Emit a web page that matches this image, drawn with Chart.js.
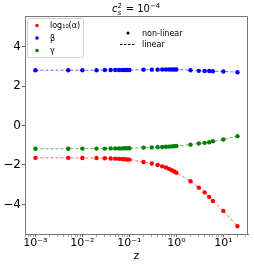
<!DOCTYPE html>
<html>
<head>
<meta charset="utf-8">
<script src="https://cdn.jsdelivr.net/npm/chart.js@4.4.1/dist/chart.umd.min.js"></script>
<style>
  html, body { margin: 0; padding: 0; background: #fff; }
  #wrap { width: 254px; height: 267px; }
</style>
</head>
<body>
<div id="wrap"><canvas id="chart" width="254" height="267"></canvas></div>
<script>
// redshift values (x)
const zValues = [0.001, 0.005, 0.01, 0.02, 0.03, 0.04, 0.05, 0.06, 0.07, 0.08, 0.09, 0.1,
  0.2, 0.3, 0.4, 0.5, 0.6, 0.7, 0.8, 0.9, 1.0, 2, 3, 4, 5, 6, 10, 20];
const logAlpha = [-1.64, -1.64, -1.65, -1.65, -1.66, -1.67, -1.68, -1.69, -1.70, -1.71, -1.72, -1.73,
  -1.85, -1.93, -2.00, -2.07, -2.13, -2.20, -2.27, -2.33, -2.39, -2.83, -3.15, -3.39, -3.62, -3.83, -4.33, -5.10];
const beta = [2.80, 2.80, 2.80, 2.80, 2.81, 2.81, 2.81, 2.81, 2.81, 2.81, 2.81, 2.81,
  2.83, 2.83, 2.83, 2.84, 2.84, 2.84, 2.84, 2.84, 2.84, 2.80, 2.77, 2.76, 2.76, 2.75, 2.74, 2.70];
const gamma = [-1.18, -1.18, -1.17, -1.17, -1.17, -1.16, -1.16, -1.16, -1.16, -1.15, -1.15, -1.15,
  -1.12, -1.11, -1.10, -1.09, -1.08, -1.07, -1.06, -1.05, -1.04, -0.97, -0.91, -0.88, -0.85, -0.80, -0.71, -0.54];
const yTicks = [-4, -2, 0, 2, 4];
const seriesNames = ["log\u2081\u2080(\u03b1)", "\u03b2", "\u03b3"];

const sup = { "-": "\u207b", "0": "\u2070", "1": "\u00b9", "2": "\u00b2", "3": "\u00b3", "4": "\u2074" };
function powLabel(e) {
  return "10" + String(e).split("").map(c => sup[c]).join("");
}

function makeSet(vals, color, line) {
  return {
    data: zValues.map((z, i) => ({ x: z, y: vals[i] })),
    showLine: true,
    borderColor: line,
    borderWidth: 1,
    borderDash: [3, 2],
    backgroundColor: color,
    pointBackgroundColor: color,
    pointBorderWidth: 0,
    pointRadius: 2.2,
  };
}

const overlay = {
  id: "overlay",
  afterDraw(chart) {
    const ctx = chart.ctx;
    const a = chart.chartArea;
    ctx.save();
    // top / right frame
    ctx.strokeStyle = "#777";
    ctx.lineWidth = 1;
    ctx.beginPath();
    ctx.moveTo(a.left, a.top + 0.5);
    ctx.lineTo(a.right - 0.5, a.top + 0.5);
    ctx.lineTo(a.right - 0.5, a.bottom);
    ctx.stroke();

    // title
    ctx.fillStyle = "#000";
    ctx.textBaseline = "alphabetic";
    ctx.font = "italic 10px 'DejaVu Sans'";
    let x = 112;
    ctx.fillText("c", x, 12);
    x += ctx.measureText("c").width;
    ctx.font = "7px 'DejaVu Sans'";
    ctx.fillText("2", x, 7.5);
    ctx.font = "italic 7px 'DejaVu Sans'";
    ctx.fillText("s", x, 14.5);
    x += 5;
    ctx.font = "10px 'DejaVu Sans'";
    ctx.fillText(" = 10", x, 12);
    x += ctx.measureText(" = 10").width;
    ctx.font = "7px 'DejaVu Sans'";
    ctx.fillText("\u22124", x, 7.5);

    // legend box
    ctx.fillStyle = "rgba(255,255,255,0.85)";
    ctx.strokeStyle = "#d0d0d0";
    ctx.beginPath();
    ctx.roundRect(27.5, 18.5, 56, 39, 2);
    ctx.fill();
    ctx.stroke();
    const cols = ["red", "blue", "green"];
    ctx.font = "8px 'DejaVu Sans'";
    ctx.textBaseline = "middle";
    seriesNames.forEach((n, i) => {
      const yy = 25.5 + i * 12.5;
      ctx.fillStyle = cols[i];
      ctx.beginPath();
      ctx.arc(37, yy, 1.8, 0, Math.PI * 2);
      ctx.fill();
      ctx.fillStyle = "#000";
      ctx.fillText(n, 50, yy + 0.5);
    });

    // style legend
    ctx.fillStyle = "#000";
    ctx.beginPath();
    ctx.arc(128, 33, 1.5, 0, Math.PI * 2);
    ctx.fill();
    ctx.fillText("non-linear", 142, 33.5);
    ctx.strokeStyle = "#000";
    ctx.setLineDash([2.5, 1.5]);
    ctx.beginPath();
    ctx.moveTo(120, 44.5);
    ctx.lineTo(135, 44.5);
    ctx.stroke();
    ctx.setLineDash([]);
    ctx.fillText("linear", 142, 44.5);
    ctx.restore();
  }
};

new Chart(document.getElementById("chart").getContext("2d"), {
  type: "scatter",
  data: {
    datasets: [
      makeSet(logAlpha, "#ff0000", "rgba(255,0,0,0.6)"),
      makeSet(beta, "#0000ff", "rgba(0,0,255,0.6)"),
      makeSet(gamma, "#008000", "rgba(0,128,0,0.6)"),
    ],
  },
  options: {
    responsive: false,
    animation: false,
    layout: { padding: { top: 16, right: 6, left: 0, bottom: 0 } },
    plugins: { legend: { display: false }, tooltip: { enabled: false } },
    scales: {
      x: {
        type: "logarithmic",
        min: 0.0006,
        max: 33.5,
        afterFit: (s) => { s.height = 33; },
        afterBuildTicks: (s) => {
          const t = [];
          for (let e = -4; e <= 1; e++) {
            for (let m = 1; m <= 9; m++) {
              const v = m * Math.pow(10, e);
              if (v >= s.min && v <= s.max) t.push({ value: v, major: m === 1 });
            }
          }
          s.ticks = t;
        },
        ticks: {
          autoSkip: false,
          maxRotation: 0,
          padding: 0,
          color: "#000",
          font: { family: "DejaVu Sans", size: 11 },
          callback: (v) => {
            const e = Math.round(Math.log10(v));
            return Math.abs(Math.log10(v) - e) < 1e-9 ? powLabel(e) : "";
          },
        },
        grid: {
          drawOnChartArea: false,
          tickLength: 3,
          tickColor: "#666",
          tickWidth: (c) => (c.tick && c.tick.major ? 1 : 0.6),
        },
        border: { color: "#777", width: 1 },
        title: {
          display: true,
          text: "z",
          color: "#000",
          font: { family: "DejaVu Sans", size: 11 },
          padding: { top: 0, bottom: 4 },
        },
      },
      y: {
        min: -5.5,
        max: 5.55,
        afterFit: (s) => { s.width = 25; },
        afterBuildTicks: (s) => { s.ticks = yTicks.map(v => ({ value: v })); },
        ticks: {
          padding: 1,
          color: "#000",
          font: { family: "DejaVu Sans", size: 12 },
          callback: (v) => (v < 0 ? "\u2212" + Math.abs(v) : String(v)),
        },
        grid: { drawOnChartArea: false, tickLength: 3, tickColor: "#666" },
        border: { color: "#777", width: 1 },
      },
    },
  },
  plugins: [overlay],
});
</script>
</body>
</html>
